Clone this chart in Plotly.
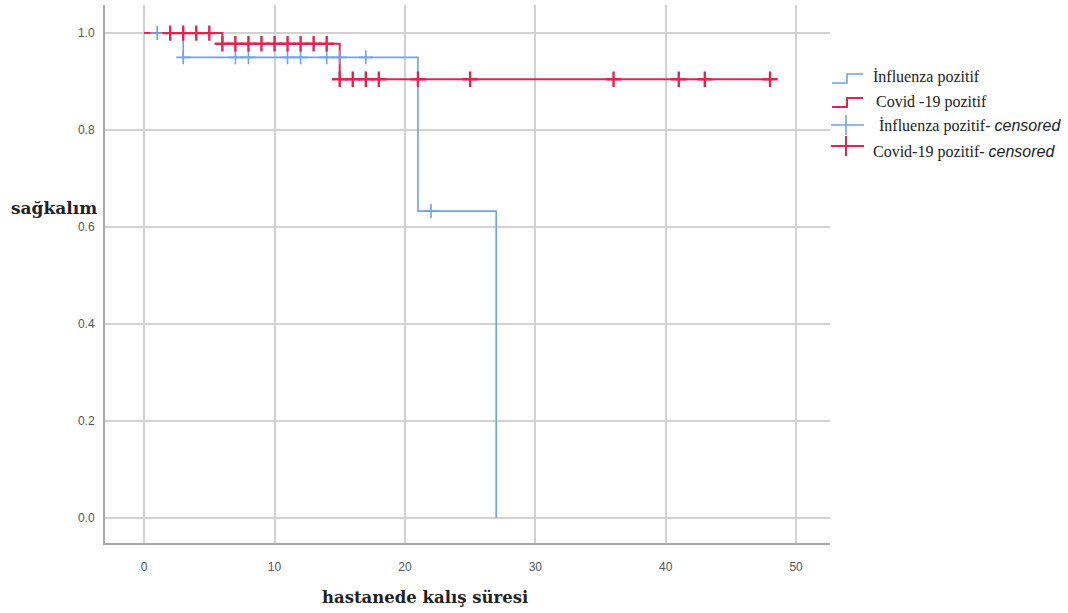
import plotly.graph_objects as go

# ---- data ----
flu_times = [0, 3, 21, 27]
flu_surv = [1.0, 0.95, 0.633, 0.0]
flu_censor_times = [1, 3, 7, 8, 11, 12, 14, 15, 17, 22]

cov_times = [0, 6, 15, 48]
cov_surv = [1.0, 0.978, 0.905, 0.905]
cov_censor_times = [2, 3, 4, 5, 6, 7, 8, 9, 10, 11, 12, 13, 14,
                    15, 16, 17, 18, 21, 25, 36, 41, 43, 48]

x_ticks = [0, 10, 20, 30, 40, 50]
y_ticks = [0.0, 0.2, 0.4, 0.6, 0.8, 1.0]

CENS = "<span style='font-family:Liberation Sans'><i>censored</i></span>"
legend_labels = ["İnfluenza pozitif", "Covid -19 pozitif",
                 "İnfluenza pozitif- " + CENS, "Covid-19 pozitif- " + CENS]

BLUE = "#6ea3e8"
RED = "#e0264f"


def step_value(times, surv, t):
    v = surv[0]
    for ti, si in zip(times, surv):
        if ti <= t:
            v = si
    return v


fig = go.Figure()
fig.add_trace(go.Scatter(x=flu_times, y=flu_surv, mode="lines", line_shape="hv",
                         line=dict(color=BLUE, width=1.6), showlegend=False))
fig.add_trace(go.Scatter(x=cov_times, y=cov_surv, mode="lines", line_shape="hv",
                         line=dict(color=RED, width=2), showlegend=False))
fig.add_trace(go.Scatter(x=flu_censor_times,
                         y=[step_value(flu_times, flu_surv, t) for t in flu_censor_times],
                         mode="markers",
                         marker=dict(symbol="cross-thin", size=10, line=dict(color=BLUE, width=1.6)),
                         showlegend=False))
fig.add_trace(go.Scatter(x=cov_censor_times,
                         y=[step_value(cov_times, cov_surv, t) for t in cov_censor_times],
                         mode="markers",
                         marker=dict(symbol="cross-thin", size=11, line=dict(color=RED, width=2.4)),
                         showlegend=False))

W, H = 1068, 613
L, R, T, B = 105, 238, 5, 70
PW, PH = W - L - R, H - T - B


def px(x):
    return (x - L) / PW


def py(y):
    return (H - B - y) / PH


shapes = []
# legend step icons
for color, ybase, w in [(BLUE, 78, 1.6), (RED, 102, 2)]:
    shapes.append(dict(type="path", xref="paper", yref="paper",
                       path=f"M {px(832)} {py(ybase+5)} L {px(847)} {py(ybase+5)} L {px(847)} {py(ybase-4)} L {px(863)} {py(ybase-4)}",
                       line=dict(color=color, width=w)))
# legend cross icons
for color, yc, w in [(BLUE, 125, 1.6), (RED, 146, 2)]:
    shapes.append(dict(type="line", xref="paper", yref="paper", x0=px(831), x1=px(864), y0=py(yc), y1=py(yc),
                       line=dict(color=color, width=w)))
    shapes.append(dict(type="line", xref="paper", yref="paper", x0=px(846), x1=px(846), y0=py(yc - 10), y1=py(yc + 10),
                       line=dict(color=color, width=w)))

annotations = []
for lab, xl, yc in zip(legend_labels, [871, 874, 877, 871], [77, 102, 126, 152]):
    annotations.append(dict(text=lab, xref="paper", yref="paper", x=px(xl), y=py(yc),
                            xanchor="left", yanchor="middle", showarrow=False,
                            font=dict(family="Liberation Serif", size=16, color="#222")))

annotations.append(dict(text="<b>sağkalım</b>", xref="paper", yref="paper", x=px(9), y=py(208),
                        xanchor="left", yanchor="middle", showarrow=False,
                        font=dict(family="DejaVu Serif", size=17, color="#222")))
annotations.append(dict(text="<b>hastanede kalış süresi</b>", xref="paper", yref="paper", x=px(425), y=py(597),
                        xanchor="center", yanchor="middle", showarrow=False,
                        font=dict(family="DejaVu Serif", size=16.5, color="#222")))

fig.update_layout(
    width=W, height=H,
    margin=dict(l=L, r=R, t=T, b=B),
    plot_bgcolor="white", paper_bgcolor="white",
    shapes=shapes, annotations=annotations,
    xaxis=dict(range=[-3, 52.6], tickvals=x_ticks, ticktext=[str(v) for v in x_ticks],
               showgrid=True, gridcolor="#d2d2d2", gridwidth=1.5, zeroline=False,
               showline=True, linecolor="#a8a8a8", linewidth=2,
               ticks="", ticklabelstandoff=12,
               tickfont=dict(family="Liberation Sans", size=12, color="#555")),
    yaxis=dict(range=[-0.0515, 1.058], tickvals=y_ticks, ticktext=[f"{v:.1f}" for v in y_ticks],
               showgrid=True, gridcolor="#d2d2d2", gridwidth=1.5, zeroline=False,
               showline=True, linecolor="#a8a8a8", linewidth=2,
               ticks="", ticklabelstandoff=6,
               tickfont=dict(family="Liberation Sans", size=12, color="#555")),
)

fig.write_html("out.html")
